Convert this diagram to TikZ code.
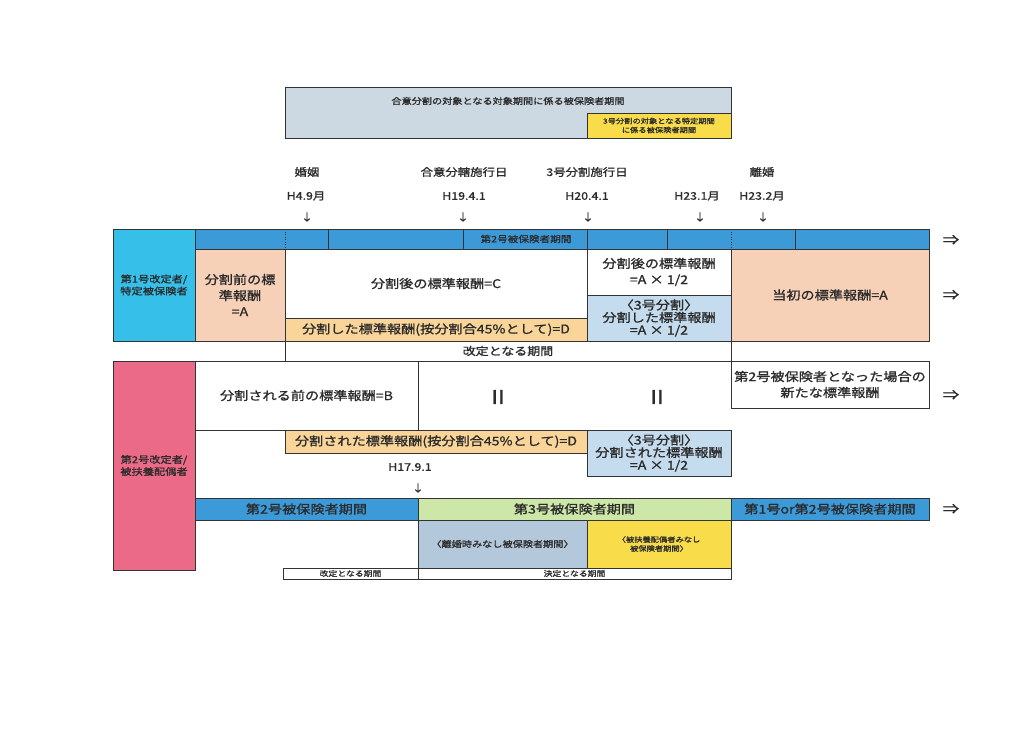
\documentclass[tikz,border=0pt]{standalone}
\usepackage{fontspec}
\setmainfont[FakeStretch=1.18,FakeBold=1.2]{Noto Sans CJK JP}
\definecolor{lineC}{HTML}{333333}
\definecolor{txtC}{HTML}{2B2B2B}
\definecolor{cyanC}{HTML}{36BFE8}
\definecolor{bandC}{HTML}{3D9AD9}
\definecolor{peachC}{HTML}{F7D0B8}
\definecolor{orgC}{HTML}{F9D59A}
\definecolor{lbC}{HTML}{C5DCEF}
\definecolor{topC}{HTML}{CCD9E3}
\definecolor{yelC}{HTML}{F8DC4A}
\definecolor{pinkC}{HTML}{EA6A88}
\definecolor{grnC}{HTML}{CDE7A8}
\definecolor{gbC}{HTML}{B3C8DA}
\tikzset{
  cell/.style={draw=lineC, line width=0.8pt, inner sep=0pt, outer sep=0pt,
    align=center, anchor=north west, text=txtC},
  lbl/.style={inner sep=0pt, outer sep=0pt, text=txtC, align=center},
  fL/.style={font=\fontsize{12}{16}\selectfont},
  fLt/.style={font=\fontsize{12}{12.5}\selectfont},
  fK/.style={font=\fontsize{11}{13}\selectfont},
  fT/.style={font=\fontsize{10.5}{12}\selectfont},
  fM/.style={font=\fontsize{9.5}{12}\selectfont},
  fBand/.style={font=\fontsize{9}{11}\selectfont},
  fS/.style={font=\fontsize{8.6}{10}\selectfont},
  fXS/.style={font=\fontsize{7}{9}\selectfont},
  fStrip/.style={font=\fontsize{7.5}{9}\selectfont},
  fArr/.style={font=\fontsize{14}{16}\selectfont},
  fDown/.style={font=\fontsize{10}{12}\selectfont},
  fEq/.style={font=\fontsize{19}{20}\selectfont},
  divl/.style={draw=lineC, line width=0.5pt},
  divd/.style={draw=lineC, line width=0.5pt, dotted},
}
\newcommand\cellbox[7]{\node[cell,#6,minimum width={#4-#2},minimum height={#5-#3}] (#1) at (#2,#3) {#7};}
\begin{document}
\begin{tikzpicture}[x=1pt,y=-1pt]
\fill[white] (0,0) rectangle (1033,736);
\useasboundingbox (0,0) rectangle (1033,736);

% ---- top legend box
\cellbox{top}{285}{87}{731}{138}{fill=topC}{}
\node[lbl,fS] (toptitle) at (508,101) {合意分割の対象となる対象期間に係る被保険者期間};
\cellbox{topy}{587}{113}{731}{138}{fill=yelC,fXS}{3号分割の対象となる特定期間\\に係る被保険者期間}

% ---- timeline labels
\node[lbl,fT] (ev1) at (307,172) {婚姻};
\node[lbl,fT] (d1) at (306,196) {H4.9月};
\node[lbl,fDown] (a1) at (307,217) {↓};
\node[lbl,fT] (ev2) at (464,172) {合意分轄施行日};
\node[lbl,fT] (d2) at (464,196) {H19.4.1};
\node[lbl,fDown] (a2) at (463,217) {↓};
\node[lbl,fT] (ev3) at (587,172) {3号分割施行日};
\node[lbl,fT] (d3) at (587,196) {H20.4.1};
\node[lbl,fDown] (a3) at (588,217) {↓};
\node[lbl,fT] (d4) at (697,196) {H23.1月};
\node[lbl,fDown] (a4) at (700,217) {↓};
\node[lbl,fT] (ev5) at (762,172) {離婚};
\node[lbl,fT] (d5) at (762,196) {H23.2月};
\node[lbl,fDown] (a5) at (763,217) {↓};

% ---- first person (upper section)
\cellbox{p1}{113}{229}{195}{341}{fill=cyanC,fM}{第1号改定者/\\特定被保険者}
\cellbox{band1}{195}{229}{929}{249}{fill=bandC}{}
\draw[divd] (285,229) -- (285,249);
\draw[divl] (328,229) -- (328,249);
\draw[divl] (463,229) -- (463,249);
\draw[divl] (587,229) -- (587,249);
\draw[divl] (667,229) -- (667,249);
\draw[divd] (731,229) -- (731,249);
\draw[divl] (795,229) -- (795,249);
\node[lbl,fBand] (band1t) at (526,239) {第2号被保険者期間};
\cellbox{preA}{195}{249}{285}{341}{fill=peachC,fL}{分割前の標\\準報酬\\=A}
\cellbox{postC}{285}{249}{587}{318}{fill=white,fL}{分割後の標準報酬=C}
\cellbox{divD}{285}{318}{587}{341}{fill=orgC,fL}{分割した標準報酬(按分割合45\%として)=D}
\cellbox{postA}{587}{249}{731}{295}{fill=white,fL}{分割後の標準報酬\\=A × 1/2}
\cellbox{div3}{587}{295}{731}{341}{fill=lbC,fLt}{〈3号分割〉\\分割した標準報酬\\=A × 1/2}
\cellbox{orig}{731}{249}{929}{341}{fill=peachC,fL}{当初の標準報酬=A}
\cellbox{kaitei}{285}{341}{731}{361}{fill=white,fK}{改定となる期間}
\node[lbl,fArr] (r1) at (951,240) {⇒};
\node[lbl,fArr] (r2) at (951,295) {⇒};

% ---- second person (lower section)
\cellbox{p2}{113}{361}{195}{570}{fill=pinkC,fM}{第2号改定者/\\被扶養配偶者}
\cellbox{preB}{195}{361}{418}{430}{fill=white,fL}{分割される前の標準報酬=B}
\node[lbl,fEq] (eq1) at (498,397) {II};
\node[lbl,fEq] (eq2) at (657,397) {II};
\cellbox{newstd}{731}{361}{929}{408}{fill=white,fL}{第2号被保険者となった場合の\\新たな標準報酬}
\node[lbl,fArr] (r3) at (951,395) {⇒};
\cellbox{divD2}{285}{430}{587}{453}{fill=orgC,fL}{分割された標準報酬(按分割合45\%として)=D}
\cellbox{div32}{587}{430}{731}{476}{fill=lbC,fLt}{〈3号分割〉\\分割された標準報酬\\=A × 1/2}
\node[lbl,fT] (d6) at (410,467) {H17.9.1};
\node[lbl,fDown] (a6) at (418,488) {↓};
\cellbox{b2}{195}{498}{418}{520}{fill=bandC,fL}{第2号被保険者期間}
\cellbox{b3}{418}{498}{731}{520}{fill=grnC,fL}{第3号被保険者期間}
\cellbox{b1}{731}{498}{929}{520}{fill=bandC,fL}{第1号or第2号被保険者期間}
\node[lbl,fArr] (r4) at (951,509) {⇒};
\cellbox{rikon}{418}{520}{587}{568}{fill=gbC,fS}{〈離婚時みなし被保険者期間〉}
\cellbox{fuyo}{587}{520}{731}{568}{fill=yelC,fXS}{〈被扶養配偶者みなし\\被保険者期間〉}
\cellbox{kt2}{283}{568}{418}{579}{fill=white,fStrip}{改定となる期間}
\cellbox{kt3}{418}{568}{731}{579}{fill=white,fStrip}{決定となる期間}
\end{tikzpicture}
\end{document}
